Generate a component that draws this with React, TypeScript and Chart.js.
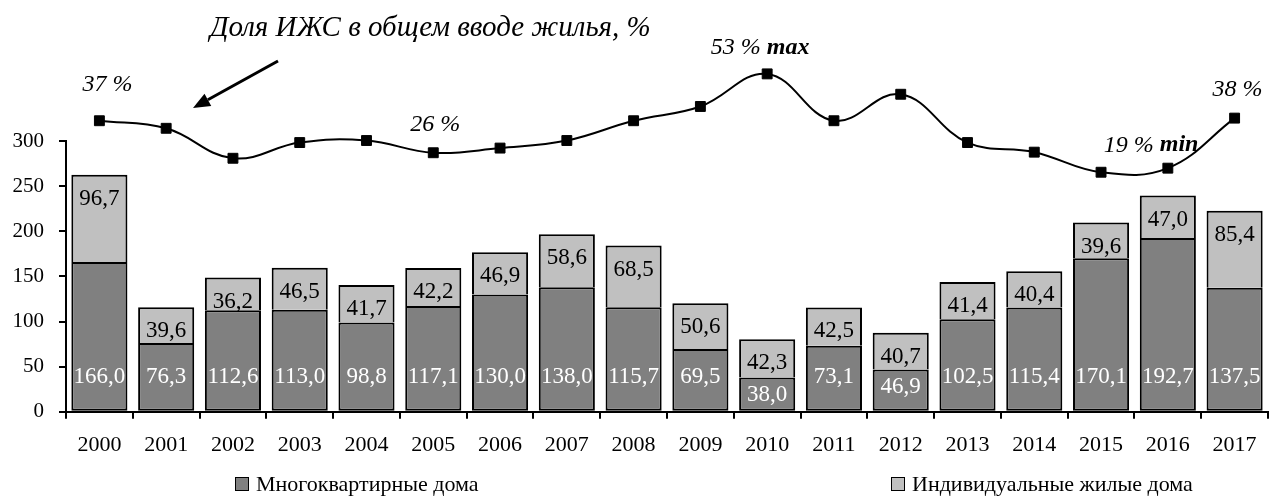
import React, { useEffect, useRef } from 'react';
import { Chart, registerables } from 'chart.js';

Chart.register(...registerables);

const FONT = "'Liberation Serif', 'Times New Roman', serif";

const years = ['2000', '2001', '2002', '2003', '2004', '2005', '2006', '2007', '2008', '2009', '2010', '2011', '2012', '2013', '2014', '2015', '2016', '2017'];
const multiApartment = [166.0, 76.3, 112.6, 113.0, 98.8, 117.1, 130.0, 138.0, 115.7, 69.5, 38.0, 73.1, 46.9, 102.5, 115.4, 170.1, 192.7, 137.5];
const individualHouses = [96.7, 39.6, 36.2, 46.5, 41.7, 42.2, 46.9, 58.6, 68.5, 50.6, 42.3, 42.5, 40.7, 41.4, 40.4, 39.6, 47.0, 85.4];
const ijsShare = [36.6, 34.0, 23.7, 29.1, 29.8, 25.6, 27.2, 29.8, 36.6, 41.5, 52.7, 36.6, 45.7, 29.1, 25.8, 18.9, 20.3, 37.5];
const yTickValues = [0, 50, 100, 150, 200, 250, 300];

const seriesNames = ['Многоквартирные дома', 'Индивидуальные жилые дома'];
const titleText = 'Доля ИЖС в общем вводе жилья, %';
const shareNotes = [
  { i: 0, text: '37 %', extra: '', dx: 8, dy: -36 },
  { i: 5, text: '26 %', extra: '', dx: 2, dy: -28 },
  { i: 10, text: '53 %', extra: 'max', dx: -7, dy: -26 },
  { i: 15, text: '19 %', extra: 'min', dx: 50, dy: -27 },
  { i: 17, text: '38 %', extra: '', dx: 3, dy: -28 },
];

const DARK = '#808080';
const LIGHT = '#c0c0c0';

const fmt = (v: number) => v.toFixed(1).replace('.', ',');

const annotPlugin = {
  id: 'annot',
  afterDatasetsDraw(chart: any) {
    const ctx = chart.ctx as CanvasRenderingContext2D;
    const lineMeta = chart.getDatasetMeta(0);
    const darkMeta = chart.getDatasetMeta(1);
    const lightMeta = chart.getDatasetMeta(2);
    const yScale = chart.scales.y;
    ctx.save();

    // y axis line from 0 to the last tick
    const yTop = yScale.getPixelForValue(yTickValues[yTickValues.length - 1]);
    const yBot = yScale.getPixelForValue(0);
    ctx.strokeStyle = '#000';
    ctx.lineWidth = 2;
    ctx.beginPath();
    ctx.moveTo(chart.chartArea.left, yTop - 1);
    ctx.lineTo(chart.chartArea.left, yBot + 1);
    ctx.stroke();

    ctx.textAlign = 'center';
    ctx.textBaseline = 'middle';
    ctx.font = `23px ${FONT}`;
    darkMeta.data.forEach((bar: any, i: number) => {
      const cy = Math.max(bar.base - 34, bar.y + 18);
      ctx.fillStyle = '#ffffff';
      ctx.fillText(fmt(multiApartment[i]), bar.x, cy);
    });
    lightMeta.data.forEach((bar: any, i: number) => {
      ctx.fillStyle = '#000000';
      ctx.fillText(fmt(individualHouses[i]), bar.x, bar.y + 24);
    });

    // share notes
    ctx.textAlign = 'left';
    ctx.fillStyle = '#000000';
    shareNotes.forEach((n) => {
      const p = lineMeta.data[n.i];
      const f1 = `italic 24px ${FONT}`;
      const f2 = `italic bold 24px ${FONT}`;
      ctx.font = f1;
      const w1 = ctx.measureText(n.text + (n.extra ? ' ' : '')).width;
      ctx.font = f2;
      const w2 = n.extra ? ctx.measureText(n.extra).width : 0;
      const total = w1 + w2;
      const x0 = p.x + n.dx - total / 2;
      const y = p.y + n.dy;
      ctx.font = f1;
      ctx.fillText(n.text, x0, y);
      if (n.extra) {
        ctx.font = f2;
        ctx.fillText(n.extra, x0 + w1, y);
      }
    });

    // title
    ctx.font = `italic 29px ${FONT}`;
    ctx.textBaseline = 'alphabetic';
    ctx.fillText(titleText, 210, 36);

    // arrow
    const x1 = 278, y1 = 61, x2 = 193, y2 = 108;
    const ang = Math.atan2(y2 - y1, x2 - x1);
    const hl = 17, hw = 7;
    const bx = x2 - hl * Math.cos(ang), by = y2 - hl * Math.sin(ang);
    ctx.strokeStyle = '#000';
    ctx.lineWidth = 3;
    ctx.beginPath();
    ctx.moveTo(x1, y1);
    ctx.lineTo(bx, by);
    ctx.stroke();
    ctx.beginPath();
    ctx.moveTo(x2, y2);
    ctx.lineTo(bx + hw * Math.sin(ang), by - hw * Math.cos(ang));
    ctx.lineTo(bx - hw * Math.sin(ang), by + hw * Math.cos(ang));
    ctx.closePath();
    ctx.fill();
    ctx.restore();
  },
};

export default function App() {
  const ref = useRef<HTMLCanvasElement | null>(null);
  useEffect(() => {
    if (!ref.current) return;
    const chart = new Chart(ref.current, {
      type: 'bar',
      data: {
        labels: years,
        datasets: [
          {
            type: 'line',
            label: 'share',
            data: ijsShare,
            yAxisID: 'y1',
            borderColor: '#000',
            backgroundColor: '#000',
            borderWidth: 2,
            pointStyle: 'rect',
            pointRadius: 7,
            pointBorderWidth: 1,
            pointBackgroundColor: '#000',
            tension: 0.4,
            clip: false,
            order: 0,
          } as any,
          {
            type: 'bar',
            label: seriesNames[0],
            data: multiApartment,
            backgroundColor: DARK,
            borderColor: '#000',
            borderWidth: 2,
            borderSkipped: false,
            barPercentage: 0.84,
            categoryPercentage: 1,
            order: 1,
          },
          {
            type: 'bar',
            label: seriesNames[1],
            data: individualHouses,
            backgroundColor: LIGHT,
            borderColor: '#000',
            borderWidth: 2,
            borderSkipped: 'start',
            barPercentage: 0.84,
            categoryPercentage: 1,
            order: 1,
          },
        ],
      },
      options: {
        responsive: false,
        maintainAspectRatio: false,
        animation: false,
        devicePixelRatio: 1,
        layout: { padding: { top: 50.9, right: 3, left: 0, bottom: 0 } },
        plugins: { legend: { display: false }, tooltip: { enabled: false } },
        scales: {
          x: {
            stacked: true,
            grid: { offset: true, drawOnChartArea: false, drawTicks: true, tickLength: 7, color: '#000', lineWidth: 2 },
            border: { display: true, color: '#000', width: 2 },
            ticks: { color: '#000', font: { family: FONT, size: 22 }, padding: 13, autoSkip: false, maxRotation: 0 },
            afterFit: (s: any) => { s.height = 86.3; },
          },
          y: {
            stacked: true,
            min: 0,
            max: 400,
            afterBuildTicks: (s: any) => { s.ticks = yTickValues.map((v) => ({ value: v })); },
            grid: { drawOnChartArea: false, drawTicks: true, tickLength: 7, color: '#000', lineWidth: 2 },
            border: { display: false },
            ticks: { color: '#000', font: { family: FONT, size: 21 }, padding: 15 },
            afterFit: (s: any) => { s.width = 66; },
          },
          y1: {
            display: false,
            min: -63.4,
            max: 60.6,
          },
        },
      },
      plugins: [annotPlugin],
    });
    return () => chart.destroy();
  }, []);

  const legendItem = (left: number, color: string, text: string) => (
    <div style={{ position: 'absolute', left, top: 471, height: 26, display: 'flex', alignItems: 'center', fontFamily: FONT, fontSize: 22, color: '#000', whiteSpace: 'nowrap' }}>
      <span style={{ display: 'inline-block', width: 14, height: 14, boxSizing: 'border-box', border: '1.5px solid #000', background: color, marginRight: 7 }} />
      <span>{text}</span>
    </div>
  );

  return (
    <div style={{ position: 'absolute', left: 0, top: 0, width: 1269, height: 498, overflow: 'hidden', background: '#fff' }}>
      <canvas ref={ref} width={1276} height={498} style={{ display: 'block', width: 1276, height: 498 }} />
      {legendItem(235, DARK, seriesNames[0])}
      {legendItem(891, LIGHT, seriesNames[1])}
    </div>
  );
}
